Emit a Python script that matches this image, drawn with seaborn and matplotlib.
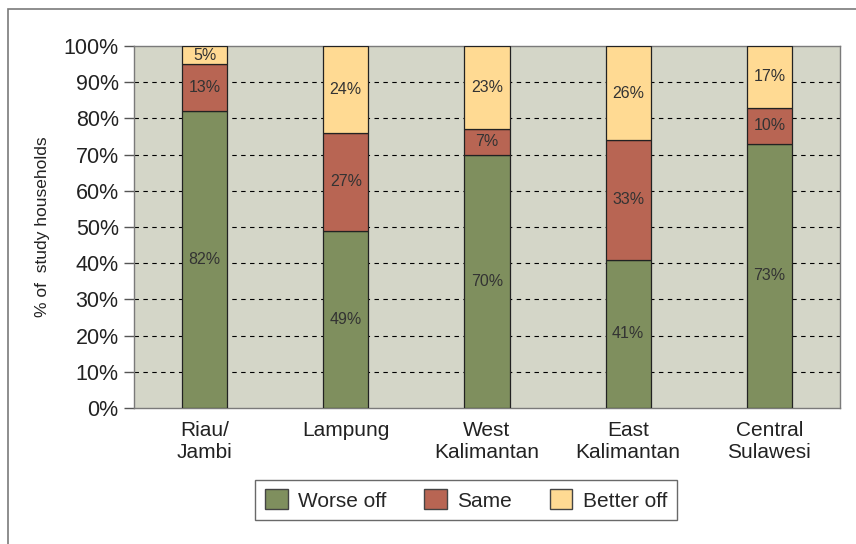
import matplotlib
matplotlib.use("Agg")
import matplotlib.pyplot as plt
import numpy as np
import pandas as pd
import seaborn as sns
from matplotlib.patches import Patch, Rectangle

regions = ["Riau/\nJambi", "Lampung", "West\nKalimantan", "East\nKalimantan", "Central\nSulawesi"]
worse_off = [82, 49, 70, 41, 73]
same = [13, 27, 7, 33, 10]
better_off = [5, 24, 23, 26, 17]
yticks = [0, 10, 20, 30, 40, 50, 60, 70, 80, 90, 100]

series = [("Worse off", worse_off, "#7f8f5e"),
          ("Same", same, "#b86553"),
          ("Better off", better_off, "#ffda93")]

sns.set_theme(style="white")
plt.rcParams["font.family"] = ["Liberation Sans", "DejaVu Sans"]

fig = plt.figure(figsize=(8.56, 5.44), dpi=100)
ax = fig.add_axes([134 / 856, 136 / 544, 706 / 856, 362 / 544])
ax.set_facecolor("#d4d6c8")

# outer frame
fig.patches.append(Rectangle((8 / 856, -0.1), 1.2, 1 - 9 / 544 + 0.1,
                             transform=fig.transFigure, fill=False,
                             edgecolor="#7a7a7a", lw=1.2, zorder=0))

bottom = np.zeros(len(regions))
for name, vals, color in series:
    df = pd.DataFrame({"region": regions, "value": vals})
    sns.barplot(data=df, x="region", y="value", color=color, bottom=bottom,
                width=0.32, edgecolor="#222222", linewidth=0.9, ax=ax,
                saturation=1, zorder=3)
    for i, v in enumerate(vals):
        ax.text(i, bottom[i] + v / 2, f"{v}%", ha="center", va="center",
                fontsize=11.5, color="#333333", zorder=4)
    bottom += np.array(vals)

ax.set_xlim(-0.5, len(regions) - 0.5)
ax.set_ylim(0, 100)
ax.set_yticks(yticks)
ax.set_yticklabels([f"{t}%" for t in yticks], fontsize=15.5, color="#222222")
for t in yticks[1:-1]:
    ax.axhline(t, color="black", lw=0.8, ls=(0, (4, 4)), zorder=1)

ax.set_xticks(range(len(regions)))
ax.set_xticklabels(regions, fontsize=15, color="#222222", va="top", linespacing=1.2)
ax.set_xticks(np.arange(-0.5, len(regions)), minor=True)
ax.tick_params(axis="x", which="major", length=0, pad=9)
ax.tick_params(axis="x", which="minor", length=7, width=1, color="#7a7a7a", direction="out")
ax.tick_params(axis="y", length=7, width=1, color="#555555", direction="out", pad=4, left=True)
ax.set_xlabel("")
ax.set_ylabel("% of  study households", fontsize=12.5, color="#222222", labelpad=10)
for s in ax.spines.values():
    s.set_color("#7a7a7a")
    s.set_linewidth(1)

handles = [Patch(facecolor=c, edgecolor="#444444", label=n) for n, _, c in series]
leg = fig.legend(handles=handles, loc="center", bbox_to_anchor=(466 / 856, 1 - 500 / 544),
                 ncol=3, fontsize=15, frameon=True, fancybox=False,
                 handlelength=1.1, handleheight=1.1, handletextpad=0.5,
                 columnspacing=1.8, borderpad=0.45)
leg.get_frame().set_edgecolor("#444444")
leg.get_frame().set_linewidth(1)

fig.savefig("out.png", dpi=100)
